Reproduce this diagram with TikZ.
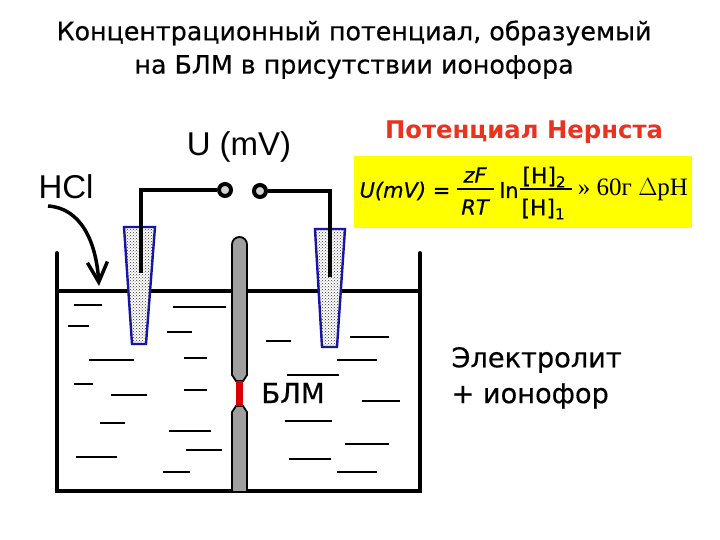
\documentclass[tikz,border=0pt]{standalone}
\usepackage{fontspec}
\setmainfont{DejaVu Sans}
\newfontfamily\arialfont{Liberation Sans}
\newfontfamily\timesfont{Liberation Serif}
\newfontfamily\heavyfont[RawFeature={embolden=0.5}]{DejaVu Sans}
\newfontfamily\heavyslant[RawFeature={embolden=0.6}]{DejaVu Sans Oblique}
\usetikzlibrary{patterns,arrows.meta}
\definecolor{pipblue}{RGB}{20,20,170}
\definecolor{nernstred}{RGB}{235,50,30}
\definecolor{nernstyellow}{RGB}{255,255,0}
\tikzstyle{tank}=[line width=3.8pt, line cap=round]
\tikzstyle{wire}=[line width=4.4pt, line join=miter]
\tikzstyle{pip}=[draw=pipblue, line width=2.4pt, fill=white, postaction={pattern=crosshatch dots, pattern color=black!80}]
\tikzstyle{bar}=[draw=black, line width=1.8pt, fill=gray!75]
\tikzstyle{clamp}=[shape=circle, minimum size=12pt, inner sep=0, draw=black, line width=4pt, fill=gray!35]
\tikzstyle{eqtext}=[font=\heavyslant\fontsize{21}{21}\selectfont, inner sep=0]
\tikzstyle{eqplain}=[font=\heavyfont\fontsize{22}{22}\selectfont, inner sep=0]
\newcommand{\eqsub}[1]{\raisebox{-4pt}{\fontsize{15}{15}\selectfont #1}}
\begin{document}
\begin{tikzpicture}[x=1pt, y=-1pt]
\useasboundingbox (0,0) rectangle (720,540);
\node[font=\heavyfont\fontsize{25.3}{25.3}\selectfont] (title1) at (354,33) {Концентрационный потенциал, образуемый};
\node[font=\heavyfont\fontsize{25.3}{25.3}\selectfont] (title2) at (354,67) {на БЛМ в присутствии ионофора};
\node[font=\arialfont\fontsize{33}{33}\selectfont] (volt) at (239,147) {U (mV)};
\node[font=\arialfont\fontsize{33}{33}\selectfont] (hcl) at (66,187) {HCl};
\node[font=\bfseries\fontsize{24.3}{24.3}\selectfont, text=nernstred] (nernst) at (524,132) {Потенциал Нернста};
\fill[nernstyellow] (354,156) rectangle (692,228);
\node[eqtext] (eq) at (405,191) {U(mV) =};
\node[eqtext] (zf) at (475,175) {zF};
\node[eqtext] (rt) at (475,207) {RT};
\node[eqplain, font=\heavyfont\fontsize{21}{21}\selectfont] (ln) at (509,190) {ln};
\node[eqplain] (h2) at (544,177) {[H]\eqsub{2}};
\node[eqplain] (h1) at (543,209) {[H]\eqsub{1}};
\node[inner sep=0, font=\timesfont\fontsize{25}{25}\selectfont] (res) at (633,190) {» 60г $\Delta$pH};
\draw[line width=1.7pt] (457,189)--(494,189);
\draw[line width=1.7pt] (520,189)--(572,189);
% tank
\draw[tank] (57,253)--(57,491)--(420,491)--(420,253);
\draw[tank] (57,291)--(420,291);
% ions
\foreach \xa/\xb/\yy/\w in {74/102/305/2.2, 68/89/326/2.2, 173/226/307/2.2, 167/192/332/1.5, 89/134/360/1.5, 184/207/358/1.5,
	74/93/384/2.2, 111/147/395/2.6, 184/207/390/1.5, 100/125/423/2.6, 169/211/431/1.5, 186/222/450/2.2,
	76/117/457/1.5, 163/190/472/1.5, 266/291/341/2.6, 350/389/337/2.2, 337/377/360/1.5, 287/339/375/1.5,
	362/400/401/1.5, 285/332/421/2.2, 345/389/444/1.5, 289/331/459/1.5, 337/377/472/1.5}
	{\draw[line width=\w pt] (\xa,\yy)--(\xb,\yy);}
% membrane
\draw[bar] (232,375)--(232,244.5) arc (180:360:7.5)--(247,375)--(243,381)--(236,381)--cycle;
\draw[bar] (232,492)--(232,412)--(236,406)--(243,406)--(247,412)--(247,492)--cycle;
\fill[red!85!black] (236,381) rectangle (243,406);
\node[font=\heavyfont\fontsize{27.5}{27.5}\selectfont] (blm) at (293,393) {БЛМ};
\node[font=\heavyfont\fontsize{27.2}{27.2}\selectfont, anchor=west] (elec1) at (448,360) {Электролит};
\node[font=\heavyfont\fontsize{27.2}{27.2}\selectfont, anchor=west] (elec2) at (448,396) {+ ионофор};
% pipettes
\draw[pip] (124,227)--(155,227)--(146,344)--(132,344)--cycle;
\draw[pip] (315,229)--(345,229)--(337,347)--(322,347)--cycle;
% electrodes and wires
\node[clamp] (c1) at (225,190) {};
\node[clamp] (c2) at (260,191) {};
\coordinate (e1) at (141,273);
\coordinate (e2) at (330,277);
\draw[wire] (c1)-|(e1);
\draw[wire] (c2)-|(e2);
\coordinate (a0) at (48,206);
\coordinate (a1) at (99,286);
\draw[line width=3.5pt, -{Straight Barb[length=20pt,width=20pt]}] (a0) .. controls (80,208) and (96,240) .. (a1);
\end{tikzpicture}
\end{document}
